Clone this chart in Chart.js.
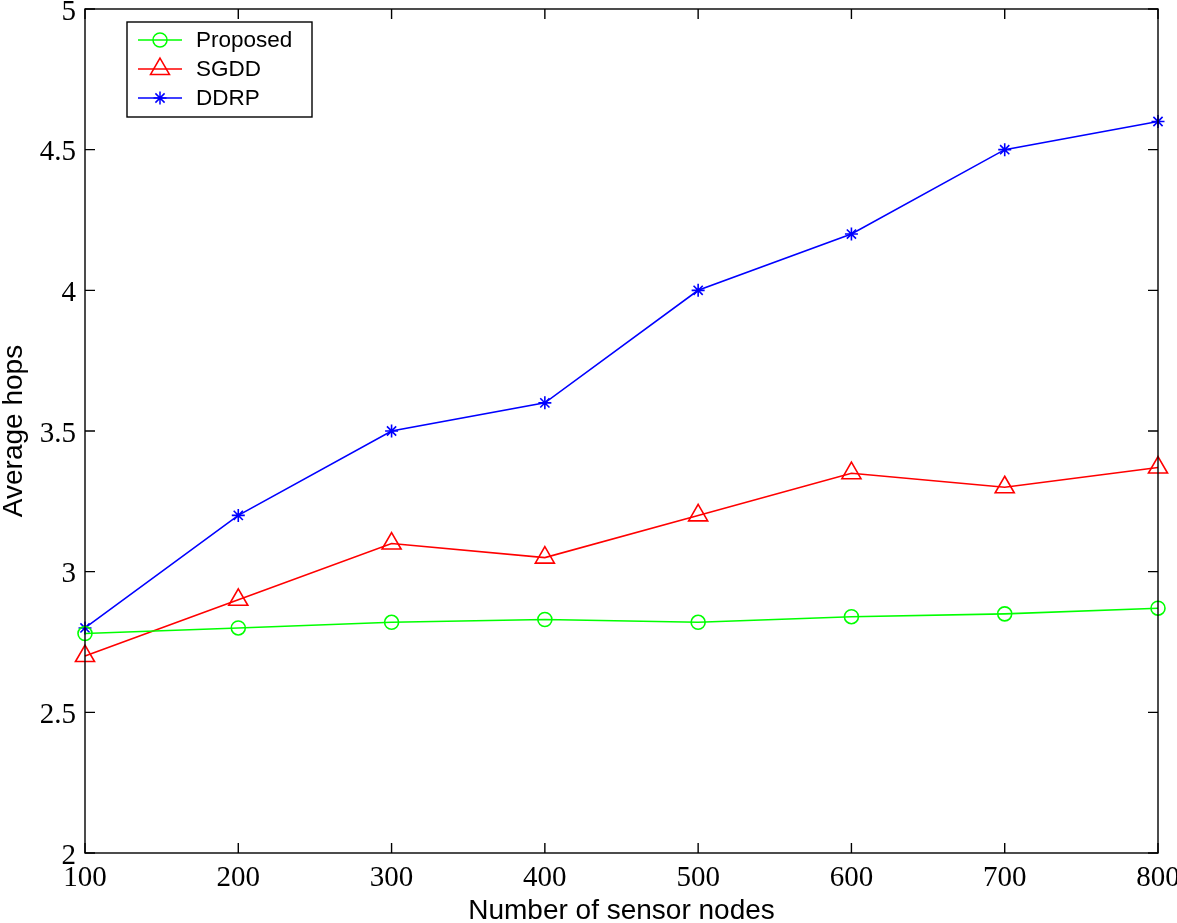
<!DOCTYPE html>
<html>
<head>
<meta charset="utf-8">
<script src="https://cdn.jsdelivr.net/npm/chart.js@4"></script>
<style>
  html, body { margin: 0; padding: 0; background: #fff; }
  #wrap { width: 1177px; height: 923px; position: relative; }
</style>
</head>
<body>
<div id="wrap"><canvas id="chart"></canvas></div>
<script>
// --- DATA ---
const nodeCounts = [100, 200, 300, 400, 500, 600, 700, 800];
const proposedHops = [2.78, 2.80, 2.82, 2.83, 2.82, 2.84, 2.85, 2.87];
const sgddHops = [2.70, 2.90, 3.10, 3.05, 3.20, 3.35, 3.30, 3.37];
const ddrpHops = [2.80, 3.20, 3.50, 3.60, 4.00, 4.20, 4.50, 4.60];
const xTicks = [100, 200, 300, 400, 500, 600, 700, 800];
const yTicks = [2, 2.5, 3, 3.5, 4, 4.5, 5];

const toPoints = (ys) => nodeCounts.map((x, i) => ({ x, y: ys[i] }));

// MATLAB style frame: box on all sides with inward ticks
const framePlugin = {
  id: "frame",
  afterDatasetsDraw(chart) {
    const { ctx, chartArea: a, scales } = chart;
    const len = 10;
    ctx.save();
    ctx.strokeStyle = "#000";
    ctx.lineWidth = 1.4;
    ctx.strokeRect(a.left, a.top, a.right - a.left, a.bottom - a.top);
    ctx.beginPath();
    xTicks.forEach((v) => {
      const px = scales.x.getPixelForValue(v);
      ctx.moveTo(px, a.bottom); ctx.lineTo(px, a.bottom - len);
      ctx.moveTo(px, a.top); ctx.lineTo(px, a.top + len);
    });
    yTicks.forEach((v) => {
      const py = scales.y.getPixelForValue(v);
      ctx.moveTo(a.left, py); ctx.lineTo(a.left + len, py);
      ctx.moveTo(a.right, py); ctx.lineTo(a.right - len, py);
    });
    ctx.stroke();
    ctx.restore();
  }
};

// legend box in the top-left corner
const legendPlugin = {
  id: "boxLegend",
  afterDraw(chart) {
    const { ctx, chartArea: a } = chart;
    const bx = a.left + 42, by = a.top + 13, bw = 185, bh = 95;
    ctx.save();
    ctx.fillStyle = "#fff";
    ctx.fillRect(bx, by, bw, bh);
    ctx.strokeStyle = "#000";
    ctx.lineWidth = 1.4;
    ctx.strokeRect(bx, by, bw, bh);
    ctx.textBaseline = "middle";
    chart.data.datasets.forEach((ds, i) => {
      const cy = by + 18 + i * 29;
      ctx.strokeStyle = ds.borderColor;
      ctx.lineWidth = 1.5;
      ctx.beginPath();
      ctx.moveTo(bx + 11, cy); ctx.lineTo(bx + 55, cy);
      ctx.stroke();
      ctx.fillStyle = "rgba(0,0,0,0)";
      Chart.helpers.drawPoint(ctx, {
        pointStyle: ds.pointStyle, radius: ds.pointRadius, borderWidth: 1.5, rotation: 0
      }, bx + 33, cy);
      ctx.fillStyle = "#000";
      ctx.font = "22.5px 'Liberation Sans', Arial, sans-serif";
      ctx.fillText(ds.label, bx + 69, cy + 1);
    });
    ctx.restore();
  }
};

const serif = "'Liberation Serif', 'Times New Roman', serif";
const sans = "'Liberation Sans', Arial, sans-serif";

new Chart(document.getElementById("chart"), {
  type: "line",
  data: {
    datasets: [
      { label: "Proposed", data: toPoints(proposedHops), borderColor: "#00ff00", pointStyle: "circle", pointRadius: 7 },
      { label: "SGDD", data: toPoints(sgddHops), borderColor: "#ff0000", pointStyle: "triangle", pointRadius: 11 },
      { label: "DDRP", data: toPoints(ddrpHops), borderColor: "#0000ff", pointStyle: "star", pointRadius: 6.5 }
    ].map((d) => ({
      ...d,
      backgroundColor: "transparent",
      pointBackgroundColor: "transparent",
      pointBorderColor: d.borderColor,
      borderWidth: 1.6,
      pointBorderWidth: 1.6,
      tension: 0,
      clip: false
    }))
  },
  options: {
    responsive: true,
    maintainAspectRatio: false,
    animation: false,
    layout: { autoPadding: false, padding: { top: 9, right: 19, left: 0, bottom: 0 } },
    plugins: { legend: { display: false }, tooltip: { enabled: false } },
    scales: {
      x: {
        type: "linear",
        min: 100, max: 800,
        afterBuildTicks: (s) => { s.ticks = xTicks.map((v) => ({ value: v })); },
        afterFit: (s) => { s.height = 70; s.paddingLeft = 0; s.paddingRight = 0; },
        grid: { drawOnChartArea: false, drawTicks: false, display: false },
        border: { display: false },
        ticks: { color: "#000", padding: 8, maxRotation: 0, font: { family: serif, size: 29 }, callback: (v) => String(v) },
        title: { display: true, text: "Number of sensor nodes", color: "#000", padding: { top: 0, bottom: -5 }, font: { family: sans, size: 28 } }
      },
      y: {
        min: 2, max: 5,
        afterBuildTicks: (s) => { s.ticks = yTicks.map((v) => ({ value: v })); },
        afterFit: (s) => { s.width = 85; s.paddingTop = 0; s.paddingBottom = 0; },
        grid: { drawOnChartArea: false, drawTicks: false, display: false },
        border: { display: false },
        ticks: { color: "#000", padding: 9, labelOffset: 3, font: { family: serif, size: 29 }, callback: (v) => String(v) },
        title: { display: true, text: "Average hops", color: "#000", padding: { top: -3, bottom: 0 }, font: { family: sans, size: 28 } }
      }
    }
  },
  plugins: [framePlugin, legendPlugin]
});
</script>
</body>
</html>
